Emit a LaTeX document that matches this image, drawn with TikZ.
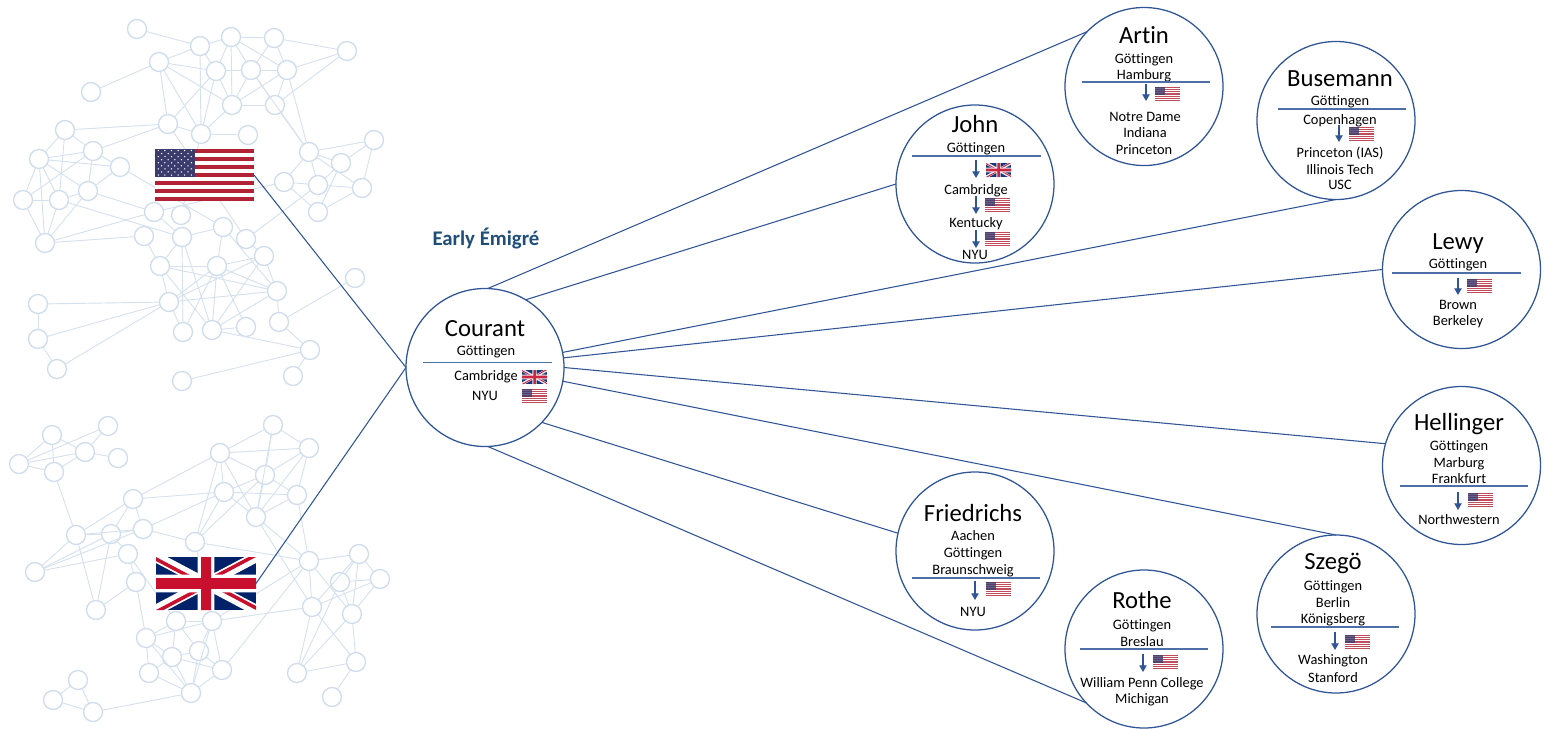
\documentclass[tikz,border=0pt]{standalone}
\usepackage{fontspec}
\setmainfont{Carlito}[Ligatures=CommonOff]
\usetikzlibrary{arrows.meta}
\definecolor{linkblue}{HTML}{2F5597}
\definecolor{titleblue}{HTML}{1F4E79}
\definecolor{netnodec}{HTML}{CFDCEC}
\definecolor{netedgec}{HTML}{D6E1EE}
\definecolor{usred}{HTML}{B22234}
\definecolor{usnavy}{HTML}{3C3B6E}
\definecolor{uknavy}{HTML}{012169}
\definecolor{ukred}{HTML}{C8102E}
\newcounter{lbl}
\tikzset{
 netnode/.style={circle,draw=netnodec,line width=1pt,minimum size=14.25pt,inner sep=0pt,outer sep=0pt},
 netedge/.style={draw=netedgec,line width=.7pt},
 person/.style={circle,draw=linkblue,line width=.95pt,minimum size=118.5pt,inner sep=0pt,outer sep=0pt},
 link/.style={draw=linkblue,line width=.8pt},
 divider/.style={draw=linkblue!85,line width=.8pt},
 move/.style={draw=linkblue,line width=.9pt,-{Triangle[length=5pt,width=5.5pt]}},
 nametxt/.style={anchor=base,inner sep=0pt,font=\fontsize{18.5}{20}\selectfont},
 smalltxt/.style={anchor=base,inner sep=0pt,font=\fontsize{10.8}{12}\selectfont},
 flagbox/.style={inner sep=0pt,outer sep=0pt},
}
% usflag name x y w h
\newcommand\usflag[5]{%
 \begin{scope}[shift={(#2,#3)},xscale=#4/100,yscale=#5/13]
  \fill[white] (0,0) rectangle (100,13);
  \foreach \i in {0,2,...,12} \fill[usred] (0,\i) rectangle (100,\i+1);
  \fill[usnavy] (0,0) rectangle (40,7);
 \end{scope}
 \node[flagbox,minimum width=#4*.75pt,minimum height=#5*.75pt] (#1) at (#2+#4/2,#3+#5/2) {};}
\newcommand\ukflag[5]{%
 \begin{scope}[shift={(#2,#3)},xscale=#4/60,yscale=#5/30]
  \fill[uknavy] (0,0) rectangle (60,30);
  \draw[white,line width=#5*.75pt/30*6] (0,0) -- (60,30) (60,0) -- (0,30);
  \begin{scope}
   \clip (30,15) -- (60,15) -- (60,30) -- cycle (30,15) -- (30,30) -- (0,30) -- cycle
         (30,15) -- (0,15) -- (0,0) -- cycle (30,15) -- (30,0) -- (60,0) -- cycle;
   \draw[ukred,line width=#5*.75pt/30*4] (0,0) -- (60,30) (60,0) -- (0,30);
  \end{scope}
  \fill[white] (25,0) rectangle (35,30) (0,10) rectangle (60,20);
  \fill[ukred] (27,0) rectangle (33,30) (0,12) rectangle (60,18);
 \end{scope}
 \node[flagbox,minimum width=#4*.75pt,minimum height=#5*.75pt] (#1) at (#2+#4/2,#3+#5/2) {};}
% text: x baseline text
\newcommand\nm[3]{\stepcounter{lbl}\node[nametxt] (t\arabic{lbl}) at (#1,#2+1) {#3};}
\newcommand\sm[3]{\stepcounter{lbl}\node[smalltxt] (t\arabic{lbl}) at (#1,#2+1) {#3};}
% divider y x1 x2
\newcommand\rl[3]{\stepcounter{lbl}\coordinate (ra\arabic{lbl}) at (#2,#1);\coordinate (rb\arabic{lbl}) at (#3,#1);\draw[divider] (ra\arabic{lbl}) -- (rb\arabic{lbl});}
% arrow x y1 y2
\newcommand\ar[3]{\stepcounter{lbl}\coordinate (aa\arabic{lbl}) at (#1,#2);\coordinate (ab\arabic{lbl}) at (#1,#3);\draw[move] (aa\arabic{lbl}) -- (ab\arabic{lbl});}
% small US flag x y ; small UK flag x y
\newcommand\su[2]{\stepcounter{lbl}\begin{scope}[opacity=.8]\usflag{fl\arabic{lbl}}{#1}{#2}{25}{14}\end{scope}}
\newcommand\sk[2]{\stepcounter{lbl}\begin{scope}[opacity=.9]\ukflag{fl\arabic{lbl}}{#1}{#2}{25}{14}\end{scope}}
\begin{document}
\begin{tikzpicture}[x=.75pt,y=-.75pt]
\useasboundingbox (0,0) rectangle (1545,728);
% US network
\foreach \n/\x/\y in {
a1/137/29,a2/200/46,a3/231/37,a4/274/38,a5/347/51,a6/159/62,a7/216/71,a8/251/70,a9/287/70,a10/91/92,
a11/232/105,a12/275/105,a13/168/124,a14/201/134,a15/248/135,a16/65/130,a17/93/151,a18/39/159,a19/120/167,a20/88/191,
a21/59/200,a22/23/200,a23/45/243,a24/154/212,a25/181/215,a26/144/236,a27/182/237,a28/223/227,a29/246/239,a30/264/256,
a31/160/266,a32/217/266,a33/277/291,a34/169/302,a35/38/304,a36/38/339,a37/57/369,a38/183/332,a39/212/330,a40/246/327,
a41/279/322,a42/310/350,a43/293/376,a44/182/381,a45/355/278,a46/309/152,a47/374/140,a48/341/163,a49/284/182,a50/318/185,
a51/362/188,a52/318/212}
 \node[netnode] (\n) at (\x,\y) {};
\foreach \a/\b in {
a1/a2,a2/a3,a3/a4,a4/a5,a2/a6,a6/a10,a6/a7,a6/a11,a6/a13,a6/a14,a2/a14,a2/a7,a3/a7,a3/a11,a3/a8,a3/a9,a4/a8,a4/a9,a5/a9,a5/a12,
a7/a8,a8/a9,a7/a11,a7/a14,a7/a13,a8/a11,a8/a12,a8/a46,a9/a11,a9/a12,a9/a46,a11/a12,a11/a14,a12/a46,a14/a15,a13/a14,a13/a16,a13/a17,a13/a29,a14/a25,
a16/a17,a16/a18,a16/a21,a17/a18,a17/a20,a17/a22,a18/a19,a18/a20,a18/a21,a18/a22,a18/a23,a17/a19,a19/a20,a19/a28,a20/a21,a20/a24,a20/a23,a21/a22,a21/a23,a22/a23,
a21/a27,a23/a24,a23/a26,a24/a27,a26/a31,a27/a28,a27/a31,a27/a38,a27/a39,a28/a32,a28/a33,a29/a30,a29/a50,a31/a32,a31/a33,a31/a34,a31/a39,a32/a30,a32/a34,a32/a33,
a32/a38,a32/a39,a32/a40,a30/a33,a30/a34,a30/a39,a33/a34,a33/a41,a33/a39,a34/a35,a34/a36,a34/a37,a34/a38,a35/a36,a36/a37,a39/a40,a39/a42,a41/a42,a41/a45,a42/a43,
a42/a44,a46/a47,a46/a48,a46/a49,a46/a50,a46/a51,a47/a48,a47/a51,a49/a50,a50/a51,a50/a48,a49/a52,a48/a52,a52/a51,a49/a24}
 \draw[netedge] (\a) -- (\b);
% UK network
\foreach \n/\x/\y in {
b1/52/435,b2/108/426,b3/85/452,b4/118/458,b5/19/464,b6/54/472,b7/273/425,b8/220/453,b9/309/448,b10/265/475,
b11/224/492,b12/297/495,b13/256/517,b14/133/499,b15/76/535,b16/111/534,b17/143/529,b18/128/554,b19/35/572,b20/136/582,
b21/96/610,b22/195/542,b23/309/561,b24/359/554,b25/340/582,b26/380/579,b27/312/607,b28/352/614,b29/356/662,b30/297/673,
b31/332/697,b32/176/621,b33/212/621,b34/146/638,b35/199/651,b36/172/657,b37/149/673,b38/222/670,b39/191/693,b40/78/680,
b41/53/700,b42/93/712}
 \node[netnode] (\n) at (\x,\y) {};
\foreach \a/\b in {
b5/b2,b5/b1,b5/b3,b5/b6,b1/b3,b1/b6,b6/b3,b2/b3,b3/b4,b6/b15,b8/b7,b8/b9,b8/b10,b8/b11,b8/b13,b7/b9,b7/b10,b7/b13,b9/b10,b9/b12,
b9/b13,b10/b11,b10/b13,b10/b12,b11/b12,b11/b13,b12/b13,b8/b14,b8/b22,b11/b14,b11/b22,b10/b22,b11/b17,b14/b15,b14/b16,b14/b17,b15/b16,b15/b17,b15/b19,b15/b21,
b16/b17,b16/b18,b16/b19,b16/b21,b17/b19,b17/b22,b18/b19,b18/b20,b18/b32,b20/b21,b20/b34,b22/b23,b22/b33,b13/b23,b13/b27,b12/b23,b23/b24,b23/b27,b23/b28,
b23/b33,b27/b33,b38/b23,b24/b25,b24/b28,b24/b27,b25/b26,b25/b28,b24/b26,b26/b27,b26/b28,b27/b29,b27/b30,b25/b30,b28/b30,b28/b29,b29/b30,b29/b31,b32/b33,b32/b34,
b32/b35,b32/b36,b33/b34,b33/b35,b33/b38,b33/b39,b34/b36,b34/b37,b34/b39,b35/b36,b35/b38,b35/b39,b36/b37,b36/b38,b36/b39,b37/b39,b38/b39,b39/b42,b40/b41,b40/b42,b41/b42}
 \draw[netedge] (\a) -- (\b);
% big flags
\usflag{usbig}{155}{149}{99}{52}
\foreach \r in {0,...,8}{
 \pgfmathtruncatemacro\nst{mod(\r,2)==0?6:5}
 \foreach \c in {1,...,\nst}{
  \fill[white] ({155+(\c-0.5+(mod(\r,2)==0?0:0.5))*6.6},{149+(\r+0.5)*3.06}) circle[radius=.75];
 }}
\ukflag{ukbig}{156}{557}{100}{53}
% people
\node[person] (courant) at (485,367.5) {};
\node[person] (artin) at (1144,86.5) {};
\node[person] (john) at (975,184) {};
\node[person] (busemann) at (1336,120.5) {};
\node[person] (lewy) at (1461.5,269.5) {};
\node[person] (hellinger) at (1461.5,465.5) {};
\node[person] (friedrichs) at (975,551) {};
\node[person] (rothe) at (1144,649) {};
\node[person] (szego) at (1336,614) {};
% links
\draw[link] (usbig.east) -- (courant.180);
\draw[link] (ukbig.east) -- (courant.180);
\draw[link] (courant.88) -- (artin.136.3);
\draw[link] (courant.59.3) -- (john.180);
\draw[link] (courant.11) -- (busemann.-90);
\draw[link] (courant.7) -- (lewy.180);
\draw[link] (courant.0) -- (hellinger.164.5);
\draw[link] (courant.-10) -- (szego.90);
\draw[link] (courant.-44) -- (friedrichs.167);
\draw[link] (courant.-88) -- (rothe.223.5);
% title
\node[anchor=base,inner sep=0pt,font=\fontsize{15.6}{17}\selectfont\bfseries,text=titleblue] (early) at (486,245) {Early Émigré};
% Courant
\nm{485}{335}{Courant}\sm{486}{354}{Göttingen}\rl{362.5}{423}{552}
\sm{486}{379}{Cambridge}\sm{485}{399}{NYU}\sk{522}{370}\su{522}{389}
% John
\nm{975}{131}{John}\sm{976}{151}{Göttingen}\rl{156}{912}{1041}
\ar{976}{160}{178}\sk{986}{163}\sm{976}{193}{Cambridge}
\ar{976}{196}{214}\su{985}{198}\sm{976}{226}{Kentucky}
\ar{976}{230}{248}\su{985}{232}\sm{975}{258}{NYU}
% Artin
\nm{1144}{42}{Artin}\sm{1144}{62}{Göttingen}\sm{1144}{78}{Hamburg}\rl{82}{1082}{1210}
\ar{1146}{84}{101}\su{1155}{87}\sm{1145}{120}{Notre Dame}\sm{1145}{136}{Indiana}\sm{1144}{153}{Princeton}
% Busemann
\nm{1340}{85}{Busemann}\sm{1340}{104}{Göttingen}\rl{109}{1278}{1406}\sm{1340}{123}{Copenhagen}
\ar{1339}{125}{142}\su{1349}{127}\sm{1340}{156}{Princeton (IAS)}\sm{1340}{173}{Illinois Tech}\sm{1340}{188}{USC}
% Lewy
\nm{1458}{248}{Lewy}\sm{1458}{267}{Göttingen}\rl{273}{1392}{1521}
\ar{1458}{278}{295}\su{1467}{279}\sm{1458}{308}{Brown}\sm{1458}{324}{Berkeley}
% Hellinger
\nm{1459}{429}{Hellinger}\sm{1459}{449}{Göttingen}\sm{1459}{466}{Marburg}\sm{1459}{482}{Frankfurt}\rl{486}{1400}{1528}
\ar{1458}{492}{510}\su{1468}{493}\sm{1459}{523}{Northwestern}
% Friedrichs
\nm{973}{520}{Friedrichs}\sm{973}{539}{Aachen}\sm{973}{556}{Göttingen}\sm{973}{573}{Braunschweig}\rl{578}{912}{1040}
\ar{975}{581}{600}\su{986}{582}\sm{973}{615}{NYU}
% Rothe
\nm{1142}{607}{Rothe}\sm{1142}{628}{Göttingen}\sm{1142}{645}{Breslau}\rl{649}{1080}{1208}
\ar{1143}{654}{672}\su{1153}{655}\sm{1142}{686}{William Penn College}\sm{1142}{702}{Michigan}
% Szegö
\nm{1333}{568}{Szegö}\sm{1333}{589}{Göttingen}\sm{1333}{606}{Berlin}\sm{1333}{622}{Königsberg}\rl{627}{1271}{1399}
\ar{1335}{632}{650}\su{1345}{635}\sm{1333}{663}{Washington}\sm{1333}{681}{Stanford}
\end{tikzpicture}
\end{document}
